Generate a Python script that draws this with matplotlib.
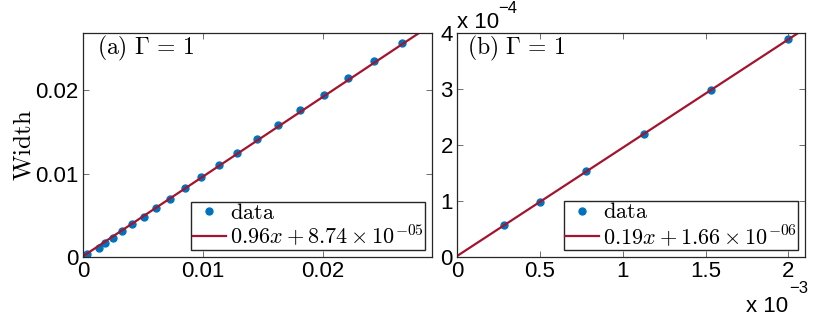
import matplotlib.pyplot as plt
from matplotlib.ticker import FuncFormatter
import numpy as np

plt.rcParams['font.family'] = ['Liberation Sans', 'DejaVu Sans']
plt.rcParams['mathtext.fontset'] = 'cm'

# panel (a) data
xa = [0.00036, 0.0013, 0.00186, 0.0025, 0.00325, 0.00408, 0.00506, 0.00608,
      0.00725, 0.00853, 0.00986, 0.0113, 0.01286, 0.01447, 0.01625, 0.01811,
      0.02006, 0.0221, 0.02428, 0.02656]
ya = [0.00032, 0.00112, 0.00164, 0.00232, 0.00308, 0.00392, 0.00484, 0.00588,
      0.0070, 0.00825, 0.0096, 0.0110, 0.01252, 0.01413, 0.01581, 0.01761,
      0.01948, 0.02145, 0.02353, 0.02565]
fit_a = (0.957, 8.74e-05)

# panel (b) data
xb = [0.281e-3, 0.50e-3, 0.78e-3, 1.126e-3, 1.534e-3, 2.0e-3]
yb = [0.566e-4, 0.988e-4, 1.53e-4, 2.19e-4, 2.98e-4, 3.89e-4]
fit_b = (0.1935, 1.66e-06)

blue = '#0072BD'
red = '#A2142F'

fig = plt.figure(figsize=(8.3, 3.21), dpi=100)
ax1 = fig.add_axes([0.1, 0.1994, 0.4205, 0.6978])
ax2 = fig.add_axes([0.5506, 0.1994, 0.4193, 0.6978])


def style(ax):
    ax.tick_params(direction='in', top=True, right=True, labelsize=16,
                   length=4, width=0.6, color='#555555', pad=3)
    for s in ax.spines.values():
        s.set_linewidth(0.9)
        s.set_color('#262626')


def leg(ax):
    ax.legend(loc='lower right', fontsize=16, frameon=True, fancybox=False,
              edgecolor='#262626', borderpad=0.05, handlelength=1.5,
              handletextpad=0.2, labelspacing=0.0, borderaxespad=0.3,
              framealpha=1)


# (a)
xx = np.linspace(0, 0.03, 50)
ax1.plot(xa, ya, 'o', color=blue, ms=5, label=r'$\mathrm{data}$')
ax1.plot(xx, fit_a[0] * xx + fit_a[1], color=red, lw=1.6,
         label=r'$0.96x + 8.74 \times 10^{-05}$')
ax1.set_xlim(0, 0.0291)
ax1.set_ylim(0, 0.0269)
ax1.set_xticks([0, 0.01, 0.02])
ax1.set_yticks([0, 0.01, 0.02])
ax1.xaxis.set_major_formatter(FuncFormatter(lambda v, p: '%g' % v))
ax1.yaxis.set_major_formatter(FuncFormatter(lambda v, p: '%g' % v))
ax1.set_ylabel(r'$\mathrm{Width}$', fontsize=18, labelpad=0)
ax1.text(0.04, 0.93, r'$\mathrm{(a)}\ \Gamma\, =\, 1$', transform=ax1.transAxes,
         fontsize=17, va='center', ha='left')
style(ax1)
leg(ax1)

# (b)
xx = np.linspace(0, 0.0022, 50)
ax2.plot(xb, yb, 'o', color=blue, ms=5, label=r'$\mathrm{data}$')
ax2.plot(xx, fit_b[0] * xx + fit_b[1], color=red, lw=1.6,
         label=r'$0.19x + 1.66 \times 10^{-06}$')
ax2.set_xlim(0, 2.1e-3)
ax2.set_ylim(0, 4e-4)
ax2.set_xticks([0, 0.5e-3, 1e-3, 1.5e-3, 2e-3])
ax2.set_yticks([0, 1e-4, 2e-4, 3e-4, 4e-4])
ax2.xaxis.set_major_formatter(FuncFormatter(lambda v, p: '%g' % round(v * 1e3, 6)))
ax2.yaxis.set_major_formatter(FuncFormatter(lambda v, p: '%g' % round(v * 1e4, 6)))
ax2.text(0.03, 0.93, r'$\mathrm{(b)}\ \Gamma\, =\, 1$', transform=ax2.transAxes,
         fontsize=17, va='center', ha='left')
style(ax2)
leg(ax2)

# exponent labels (MATLAB style)
fig.text(0.5506, 0.912, 'x 10', fontsize=16, ha='left', va='baseline')
fig.text(0.600, 0.958, '\u22124', fontsize=12, ha='left', va='baseline')
fig.text(0.949, 0.028, 'x 10', fontsize=16, ha='right', va='baseline')
fig.text(0.951, 0.088, '\u22123', fontsize=12, ha='left', va='baseline')

fig.savefig('out.png', dpi=100)
